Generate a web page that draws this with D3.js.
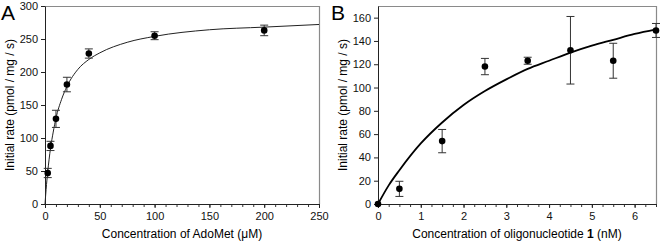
<!DOCTYPE html>
<html>
<head>
<meta charset="utf-8">
<script src="https://cdn.jsdelivr.net/npm/d3@7"></script>
<style>
  body { margin: 0; background: #fff; }
  svg { display: block; font-family: "Liberation Sans", Arial, sans-serif; }
  .tick text { font-size: 11px; fill: #111; }
</style>
</head>
<body>
<svg id="chart" width="661" height="243"></svg>
<script>
"use strict";

// panel A: AdoMet titration
const adoX = [2.5, 5, 10, 20, 40, 100, 200];
const adoY = [47, 88, 129, 181, 228, 255, 263];
const adoErr = [7, 7, 13, 11, 7, 6, 8];
const adoFitX = [0, 1, 2.5, 5, 7.5, 10, 15, 20, 30, 40, 50, 75, 100, 150, 200, 250];
const adoFitY = [0, 22, 49, 84, 109, 130, 158, 178, 204, 219, 229, 245, 254, 264, 268, 272];

// panel B: oligonucleotide titration
const oligoX = [0, 0.5, 1.5, 2.5, 3.5, 4.5, 5.5, 6.5];
const oligoY = [0, 13, 54, 118, 123, 132, 123, 149];
const oligoErr = [0, 6.5, 10, 7, 3, 29, 15, 6];
const oligoFitX = [0, 0.25, 0.5, 1, 1.5, 2, 2.5, 3, 3.5, 4, 4.5, 5, 5.5, 6, 6.5];
const oligoFitY = [0, 16, 29, 52, 70, 85, 97, 107, 116, 123, 130, 136, 141, 146, 150];

const svg = d3.select("#chart");

function panel(cfg) {
    let g = svg.append("g");

    let x = d3.scaleLinear().domain(cfg.xDomain).range([cfg.left, cfg.right]);
    let y = d3.scaleLinear().domain(cfg.yDomain).range([cfg.bottom, cfg.top]);

    // frame top + right (gray)
    g.append("path")
    .attr("d", `M${cfg.left},${cfg.top + 0.5}H${cfg.right + 0.5}V${cfg.bottom}`)
    .attr("fill", "none")
    .attr("stroke", "#8a8a8a")
    .attr("stroke-width", 1.2);

    // minor x ticks
    g.append("g")
    .attr("transform", `translate(0, ${cfg.bottom})`)
    .call(d3.axisBottom(x).tickValues(d3.range(cfg.xDomain[0], cfg.xDomain[1] + 1e-9, cfg.xMinor)).tickSize(3).tickFormat(""))
    .call(a => a.select(".domain").remove())
    .selectAll("line").attr("stroke", "#333");

    // x axis
    g.append("g")
    .attr("transform", `translate(0, ${cfg.bottom})`)
    .call(d3.axisBottom(x).tickValues(cfg.xTicks).tickFormat(d3.format("d")).tickSize(4).tickSizeOuter(0).tickPadding(4))
    .call(a => a.select(".domain").attr("stroke", "#222"))
    .call(a => a.selectAll("line").attr("stroke", "#222"));

    // y axis
    g.append("g")
    .attr("transform", `translate(${cfg.left}, 0)`)
    .call(d3.axisLeft(y).tickValues(cfg.yTicks).tickFormat(d3.format("d")).tickSize(4).tickSizeOuter(0).tickPadding(3))
    .call(a => a.select(".domain").attr("stroke", "#222"))
    .call(a => a.selectAll("line").attr("stroke", "#222"));

    // fit curve
    g.append("path")
    .datum(cfg.fitX.map((v, i) => [v, cfg.fitY[i]]))
    .attr("fill", "none")
    .attr("stroke", cfg.fitColor)
    .attr("stroke-width", cfg.fitWidth)
    .attr("d", d3.line().x(d => x(d[0])).y(d => y(d[1])).curve(d3.curveMonotoneX));

    // error bars
    let pts = cfg.px.map((v, i) => ({x: v, y: cfg.py[i], e: cfg.pe[i]}));
    let eb = g.append("g").selectAll("g")
    .data(pts.filter(d => d.e > 0))
    .enter()
    .append("g")
    .attr("stroke", "#333")
    .attr("stroke-width", 1);
    eb.append("line")
    .attr("x1", d => x(d.x)).attr("x2", d => x(d.x))
    .attr("y1", d => y(d.y - d.e)).attr("y2", d => y(d.y + d.e));
    eb.append("line")
    .attr("x1", d => x(d.x) - 4).attr("x2", d => x(d.x) + 4)
    .attr("y1", d => y(d.y - d.e)).attr("y2", d => y(d.y - d.e));
    eb.append("line")
    .attr("x1", d => x(d.x) - 4).attr("x2", d => x(d.x) + 4)
    .attr("y1", d => y(d.y + d.e)).attr("y2", d => y(d.y + d.e));

    // points
    g.append("g").selectAll("circle")
    .data(pts)
    .enter()
    .append("circle")
    .attr("cx", d => x(d.x))
    .attr("cy", d => y(d.y))
    .attr("r", 3.3)
    .attr("fill", "#000");

    // y label
    g.append("text")
    .attr("transform", `translate(${cfg.yLabelX}, ${(cfg.top + cfg.bottom) / 2}) rotate(-90)`)
    .attr("text-anchor", "middle")
    .attr("font-size", 12)
    .text("Initial rate (pmol / mg / s)");

    // x label
    let xl = g.append("text")
    .attr("x", (cfg.left + cfg.right) / 2)
    .attr("y", 238)
    .attr("text-anchor", "middle")
    .attr("font-size", 12);
    cfg.xLabel.forEach(p => xl.append("tspan").attr("font-weight", p.bold ? "bold" : null).text(p.t));

    // panel letter
    g.append("text")
    .attr("x", cfg.letterX)
    .attr("y", 20)
    .attr("font-size", 21)
    .text(cfg.letter);
}

panel({
    left: 45, right: 319, top: 6, bottom: 204,
    xDomain: [0, 250], yDomain: [0, 300],
    xTicks: [0, 50, 100, 150, 200, 250], xMinor: 10,
    yTicks: [0, 50, 100, 150, 200, 250, 300],
    px: adoX, py: adoY, pe: adoErr,
    fitX: adoFitX, fitY: adoFitY, fitColor: "#222", fitWidth: 1,
    yLabelX: 14,
    xLabel: [{t: "Concentration of AdoMet (\u03bcM)"}],
    letter: "A", letterX: 1
});

panel({
    left: 378, right: 656, top: 6, bottom: 204,
    xDomain: [0, 6.5], yDomain: [0, 170],
    xTicks: [0, 1, 2, 3, 4, 5, 6], xMinor: 0.25,
    yTicks: [0, 20, 40, 60, 80, 100, 120, 140, 160],
    px: oligoX, py: oligoY, pe: oligoErr,
    fitX: oligoFitX, fitY: oligoFitY, fitColor: "#000", fitWidth: 1.8,
    yLabelX: 347,
    xLabel: [{t: "Concentration of oligonucleotide "}, {t: "1", bold: true}, {t: " (nM)"}],
    letter: "B", letterX: 331
});
</script>
</body>
</html>
